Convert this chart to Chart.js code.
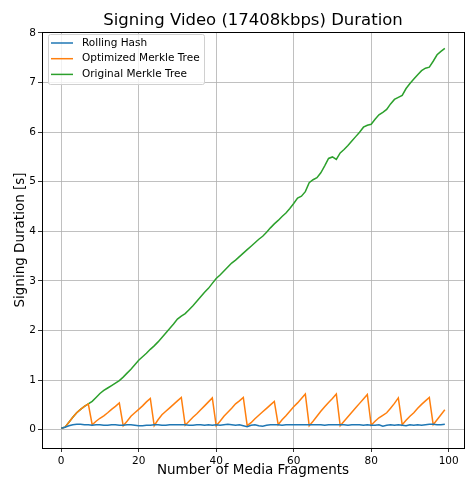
<!DOCTYPE html>
<html><head><meta charset="utf-8">
<script src="https://cdn.jsdelivr.net/npm/chart.js@4"></script>
<style>html,body{margin:0;padding:0;background:#fff}canvas{display:block}</style>
</head><body>
<canvas id="c" width="465" height="485"></canvas>
<script>
const fragments = Array.from({length:100},(_,i)=>i);
const rollingHash = [0.03,0.05,0.08,0.10,0.11,0.11,0.10,0.10,0.09,0.10,
0.10,0.09,0.09,0.10,0.10,0.09,0.09,0.10,0.10,0.09,
0.08,0.08,0.09,0.09,0.10,0.10,0.09,0.09,0.10,0.10,
0.10,0.10,0.10,0.09,0.09,0.10,0.10,0.09,0.10,0.09,
0.10,0.09,0.10,0.11,0.10,0.09,0.10,0.08,0.06,0.09,
0.10,0.08,0.07,0.09,0.10,0.10,0.10,0.09,0.10,0.10,
0.10,0.10,0.10,0.10,0.10,0.10,0.10,0.10,0.09,0.10,
0.10,0.10,0.10,0.10,0.09,0.10,0.10,0.10,0.09,0.10,
0.09,0.09,0.10,0.07,0.09,0.10,0.09,0.10,0.09,0.08,
0.10,0.09,0.10,0.09,0.10,0.11,0.11,0.10,0.10,0.11];
const optimizedMerkle = [0.03,0.05,0.15,0.25,0.34,0.41,0.47,0.52,
0.10,0.17,0.23,0.28,0.34,0.41,0.47,0.54,
0.08,0.17,0.27,0.34,0.41,0.48,0.56,0.63,
0.08,0.20,0.30,0.37,0.44,0.51,0.58,0.65,
0.09,0.17,0.25,0.32,0.40,0.48,0.56,0.64,
0.08,0.17,0.27,0.35,0.43,0.52,0.58,0.65,
0.08,0.14,0.22,0.29,0.36,0.43,0.50,0.57,
0.10,0.20,0.28,0.37,0.46,0.54,0.63,0.72,
0.08,0.17,0.27,0.37,0.46,0.55,0.63,0.72,
0.08,0.17,0.26,0.35,0.44,0.53,0.62,0.71,
0.09,0.17,0.24,0.29,0.34,0.43,0.53,0.64,
0.10,0.19,0.27,0.34,0.43,0.51,0.58,0.65,
0.10,0.20,0.30,0.40];
const originalMerkle = [0.03,0.05,0.15,0.25,0.34,0.41,0.47,0.52,0.57,0.65,
0.73,0.79,0.84,0.89,0.94,0.99,1.06,1.14,1.22,1.31,
1.40,1.47,1.54,1.62,1.69,1.77,1.86,1.95,2.04,2.13,
2.23,2.29,2.34,2.42,2.50,2.59,2.68,2.77,2.85,2.95,
3.05,3.12,3.20,3.28,3.36,3.42,3.49,3.56,3.63,3.70,
3.77,3.84,3.90,3.98,4.07,4.15,4.22,4.30,4.37,4.46,
4.56,4.67,4.71,4.80,4.98,5.04,5.08,5.18,5.32,5.47,
5.50,5.45,5.58,5.65,5.73,5.82,5.91,6.00,6.10,6.14,
6.16,6.26,6.35,6.40,6.46,6.57,6.66,6.70,6.74,6.88,
6.98,7.07,7.16,7.24,7.29,7.31,7.43,7.56,7.63,7.69];
const xTicks = [0,20,40,60,80,100];
const yTicks = [0,1,2,3,4,5,6,7,8];
const seriesLabels = ['Rolling Hash','Optimized Merkle Tree','Original Merkle Tree'];
const seriesColors = ['#1f77b4','#ff7f0e','#2ca02c'];
const chartTitle = 'Signing Video (17408kbps) Duration';

const FONT = 'DejaVu Sans';
const mk = (label,data,color)=>({label,data:data.map((v,i)=>({x:fragments[i],y:v})),borderColor:color,backgroundColor:color,borderWidth:1.5,pointRadius:0,tension:0,fill:false});

const boxPlugin = {
  id:'box',
  afterDraw(chart){
    const {ctx,chartArea:a} = chart;
    ctx.save();
    ctx.strokeStyle='#000';ctx.lineWidth=1;
    ctx.strokeRect(Math.round(a.left)+0.5,Math.round(a.top)+0.5,Math.round(a.right-a.left),Math.round(a.bottom-a.top));
    ctx.fillStyle='#000';
    ctx.font='16.5px "'+FONT+'"';
    ctx.textAlign='center';ctx.textBaseline='alphabetic';
    ctx.fillText(chartTitle,(a.left+a.right)/2,25);
    ctx.textAlign='left';
    const lx=a.left+6, ly=a.top+2, w=156, h=50;
    ctx.fillStyle='rgba(255,255,255,0.8)';
    ctx.strokeStyle='#d0d0d0';
    ctx.beginPath();
    if(ctx.roundRect) ctx.roundRect(lx+0.5,ly+0.5,w,h,2); else ctx.rect(lx+0.5,ly+0.5,w,h);
    ctx.fill();ctx.stroke();
    ctx.font='10.5px "'+FONT+'"';
    ctx.textBaseline='middle';
    chart.data.datasets.forEach((d,i)=>{
      const y=ly+9+i*15.7;
      ctx.strokeStyle=d.borderColor;ctx.lineWidth=1.5;
      ctx.beginPath();ctx.moveTo(lx+3,y);ctx.lineTo(lx+25,y);ctx.stroke();
      ctx.fillStyle='#000';
      ctx.fillText(d.label,lx+34,y);
    });
    ctx.restore();
  }
};

new Chart(document.getElementById('c'),{
  type:'line',
  data:{datasets:[mk(seriesLabels[0],rollingHash,seriesColors[0]),mk(seriesLabels[1],optimizedMerkle,seriesColors[1]),mk(seriesLabels[2],originalMerkle,seriesColors[2])]},
  options:{
    responsive:false,animation:false,
    layout:{padding:{top:32,right:1,left:12,bottom:6}},
    plugins:{legend:{display:false},tooltip:{enabled:false},title:{display:false}},
    scales:{
      x:{type:'linear',min:-4.95,max:103.95,
        afterBuildTicks(s){s.ticks=xTicks.map(v=>({value:v}));},
        afterFit(s){s.height=31;},
        ticks:{color:'#000',font:{family:FONT,size:10.5},padding:3,maxRotation:0,autoSkip:false},
        grid:{color:'#b0b0b0',lineWidth:0.8,tickColor:'#000',tickLength:4,drawTicks:true},
        border:{display:true,color:'#000'},
        title:{display:true,text:'Number of Media Fragments',color:'#000',font:{family:FONT,size:13.5},padding:{top:1,bottom:0}}
      },
      y:{type:'linear',min:-0.37,max:8.02,
        afterBuildTicks(s){s.ticks=yTicks.map(v=>({value:v}));},
        afterFit(s){s.width=30;},
        ticks:{color:'#000',font:{family:FONT,size:10.5},padding:2,autoSkip:false},
        grid:{color:'#b0b0b0',lineWidth:0.8,tickColor:'#000',tickLength:4,drawTicks:true},
        border:{display:true,color:'#000'},
        title:{display:true,text:'Signing Duration [s]',color:'#000',font:{family:FONT,size:13.5},padding:{top:0,bottom:2}}
      }
    }
  },
  plugins:[boxPlugin]
});
</script>
</body></html>
